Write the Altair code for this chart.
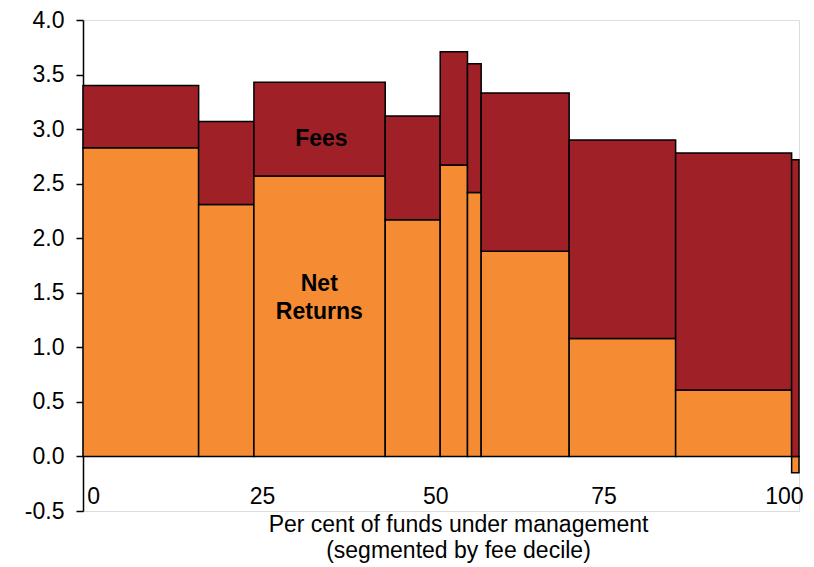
import altair as alt
import pandas as pd

# Share of funds under management (per cent) per fee decile
deciles = ["1", "2", "3", "4", "5", "6", "7", "8", "9", "10"]
fund_share = [16.15, 7.72, 18.34, 7.68, 3.81, 1.91, 12.29, 14.87, 16.20, 1.03]
net_returns = [2.83, 2.31, 2.57, 2.17, 2.67, 2.42, 1.88, 1.08, 0.61, -0.15]
fees = [0.57, 0.76, 0.86, 0.95, 1.04, 1.18, 1.45, 1.82, 2.17, 2.72]

# x tick labels and where they sit in the reference
x_tick_pos = [1.4, 25, 49.2, 72.7, 97.9]
x_tick_text = ["0", "25", "50", "75", "100"]
y_ticks = [-0.5, 0.0, 0.5, 1.0, 1.5, 2.0, 2.5, 3.0, 3.5, 4.0]

series = ["Net Returns", "Fees"]
colors = ["#F58C34", "#9F2127"]

annot_text = ["Fees", "Net", "Returns"]
annot_x = [33.3, 33.0, 33.0]
annot_y = [2.91, 1.58, 1.32]

rows = []
left = 0.0
for d, w, n, f in zip(deciles, fund_share, net_returns, fees):
    right = left + w
    rows.append({"decile": d, "x0": left, "x1": right, "y0": 0.0, "y1": n, "series": "Net Returns"})
    base = max(n, 0.0)
    rows.append({"decile": d, "x0": left, "x1": right, "y0": base, "y1": base + f, "series": "Fees"})
    left = right
df = pd.DataFrame(rows)

ann = pd.DataFrame({"text": annot_text, "x": annot_x, "y": annot_y})

label_map = "{" + ", ".join(f"'{p}': '{t}'" for p, t in zip(x_tick_pos, x_tick_text)) + "}"

FONT = "Liberation Sans"
FS = 23

x_scale = alt.Scale(domain=[0, 100], nice=False, zero=False)
y_scale = alt.Scale(domain=[-0.5, 4.0], nice=False, zero=False)

bars = alt.Chart(df).mark_rect(stroke="black", strokeWidth=1.5).encode(
    x=alt.X(
        "x0:Q",
        scale=x_scale,
        axis=alt.Axis(
            values=x_tick_pos,
            labelExpr=label_map + "[toString(datum.value)]",
            title=["Per cent of funds under management", "(segmented by fee decile)"],
            domain=False,
            ticks=False,
            tickSize=0,
            grid=False,
            labelPadding=-26,
            labelFlush=False,
            labelOverlap=False,
            labelFontSize=FS,
            labelFont=FONT,
            labelColor="black",
            titleFont=FONT,
            titleFontSize=FS,
            titleFontWeight="normal",
            titleColor="black",
            titleLineHeight=26,
            titleBaseline="top",
            titleY=2,
            titleX=375,
            titleAlign="center",
        ),
    ),
    x2="x1:Q",
    y=alt.Y(
        "y0:Q",
        scale=y_scale,
        axis=alt.Axis(
            values=y_ticks,
            labelExpr="datum.value < 0 ? '-' + format(-datum.value, '.1f') : format(datum.value, '.1f')",
            title=None,
            grid=False,
            domainColor="black",
            domainWidth=1.5,
            tickColor="black",
            tickWidth=1.5,
            tickSize=7,
            labelPadding=12,
            labelFontSize=FS,
            labelFont=FONT,
            labelColor="black",
            minExtent=70,
            maxExtent=70,
        ),
    ),
    y2="y1:Q",
    fill=alt.Fill("series:N", scale=alt.Scale(domain=series, range=colors), legend=None),
)

labels = alt.Chart(ann).mark_text(
    font=FONT, fontSize=FS, fontWeight="bold", color="black",
    align="center", baseline="middle",
).encode(
    x=alt.X("x:Q", scale=x_scale),
    y=alt.Y("y:Q", scale=y_scale),
    text="text:N",
)

chart = (
    alt.layer(bars, labels)
    .properties(
        width=716,
        height=491,
        autosize=alt.AutoSizeParams(type="none"),
        padding={"left": 75, "top": 12, "right": 6, "bottom": 55},
    )
    .configure_view(strokeWidth=0)
    .configure(background="white")
)

chart.save("out.html", embed_options={"renderer": "svg", "actions": False})
